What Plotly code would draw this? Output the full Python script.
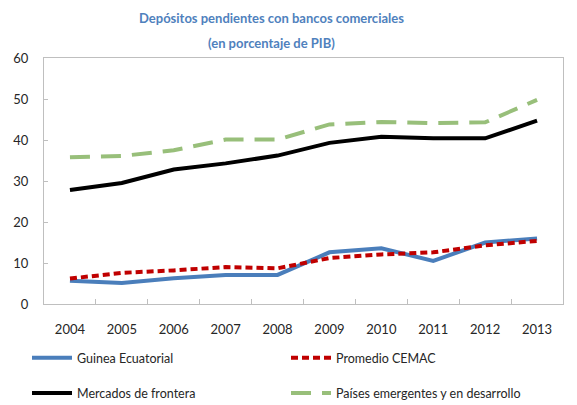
import plotly.graph_objects as go

years = ["2004", "2005", "2006", "2007", "2008", "2009", "2010", "2011", "2012", "2013"]
guinea = [5.7, 5.1, 6.3, 7.1, 7.1, 12.6, 13.6, 10.5, 15.0, 16.0]
cemac = [6.2, 7.6, 8.2, 9.0, 8.7, 11.2, 12.1, 12.6, 14.3, 15.4]
frontera = [27.8, 29.5, 32.8, 34.3, 36.2, 39.3, 40.8, 40.4, 40.4, 44.7]
emergentes = [35.8, 36.1, 37.5, 40.1, 40.1, 43.8, 44.4, 44.1, 44.3, 49.8]
y_ticks = [0, 10, 20, 30, 40, 50, 60]
title_lines = ["Depósitos pendientes con bancos comerciales", "(en porcentaje de PIB)"]

FONT = "Lato, Roboto, sans-serif"
# page has an 8px body margin: the figure is drawn from (8, 8) of the window
OFF = 8
W, H = 577 - OFF, 405 - OFF
ML, MR, MT = 44 - OFF, 14, 58 - OFF
PW, PH = W - ML - MR, 246
MB = H - MT - PH

fig = go.Figure()
fig.add_trace(go.Scatter(x=years, y=guinea, name="Guinea Ecuatorial", mode="lines",
                         legend="legend", legendgroup="a",
                         line=dict(color="#4A7EBB", width=4)))
fig.add_trace(go.Scatter(x=years, y=cemac, name="Promedio CEMAC", mode="lines",
                         legend="legend2", legendgroup="b",
                         line=dict(color="#C00000", width=4, dash="7px,4px")))
fig.add_trace(go.Scatter(x=years, y=frontera, name="Mercados de frontera", mode="lines",
                         legend="legend", legendgroup="c",
                         line=dict(color="#000000", width=4)))
fig.add_trace(go.Scatter(x=years, y=emergentes, name="Países emergentes y en desarrollo", mode="lines",
                         legend="legend2", legendgroup="d",
                         line=dict(color="#98BF7A", width=4, dash="20px,11px")))

def px_x(px):
    # px given in window coordinates
    return (px - OFF - ML) / PW

def px_y(py):
    return (H - MB - (py - OFF)) / PH

legend_common = dict(orientation="v", xanchor="left", yanchor="top", tracegroupgap=16,
                     bgcolor="rgba(0,0,0,0)", itemwidth=40,
                     font=dict(family=FONT, size=12.5, color="#262626"))

fig.update_layout(
    width=W, height=H,
    margin=dict(l=ML, r=MR, t=MT, b=MB, autoexpand=False),
    paper_bgcolor="white", plot_bgcolor="white",
    font=dict(family=FONT, size=13, color="#262626"),
    showlegend=True,
    legend=dict(x=px_x(27), y=px_y(343), **legend_common),
    legend2=dict(x=px_x(286), y=px_y(343), **legend_common),
    annotations=[
        dict(text="<b>%s</b>" % title_lines[0], xref="paper", yref="paper",
             x=px_x(271), y=px_y(18), xanchor="center", yanchor="middle", showarrow=False,
             font=dict(family=FONT, size=13, color="#4F81BD")),
        dict(text="<b>%s</b>" % title_lines[1], xref="paper", yref="paper",
             x=px_x(271), y=px_y(43), xanchor="center", yanchor="middle", showarrow=False,
             font=dict(family=FONT, size=13, color="#4F81BD")),
    ],
)
fig.update_xaxes(type="category", range=[-0.5, 9.5], showline=True, linecolor="#BFBFBF",
                 linewidth=1, mirror=True, ticks="inside", tickson="boundaries", ticklen=5,
                 tickcolor="#BFBFBF", showgrid=False, tickfont=dict(size=13),
                 ticklabelstandoff=13)
fig.update_yaxes(range=[0, 60], tickvals=y_ticks, showline=True, linecolor="#BFBFBF",
                 linewidth=1, mirror=True, ticks="inside", ticklen=4, tickcolor="#BFBFBF",
                 showgrid=False, zeroline=False, tickfont=dict(size=13),
                 ticklabelstandoff=12)

fig.write_html("out.html")
